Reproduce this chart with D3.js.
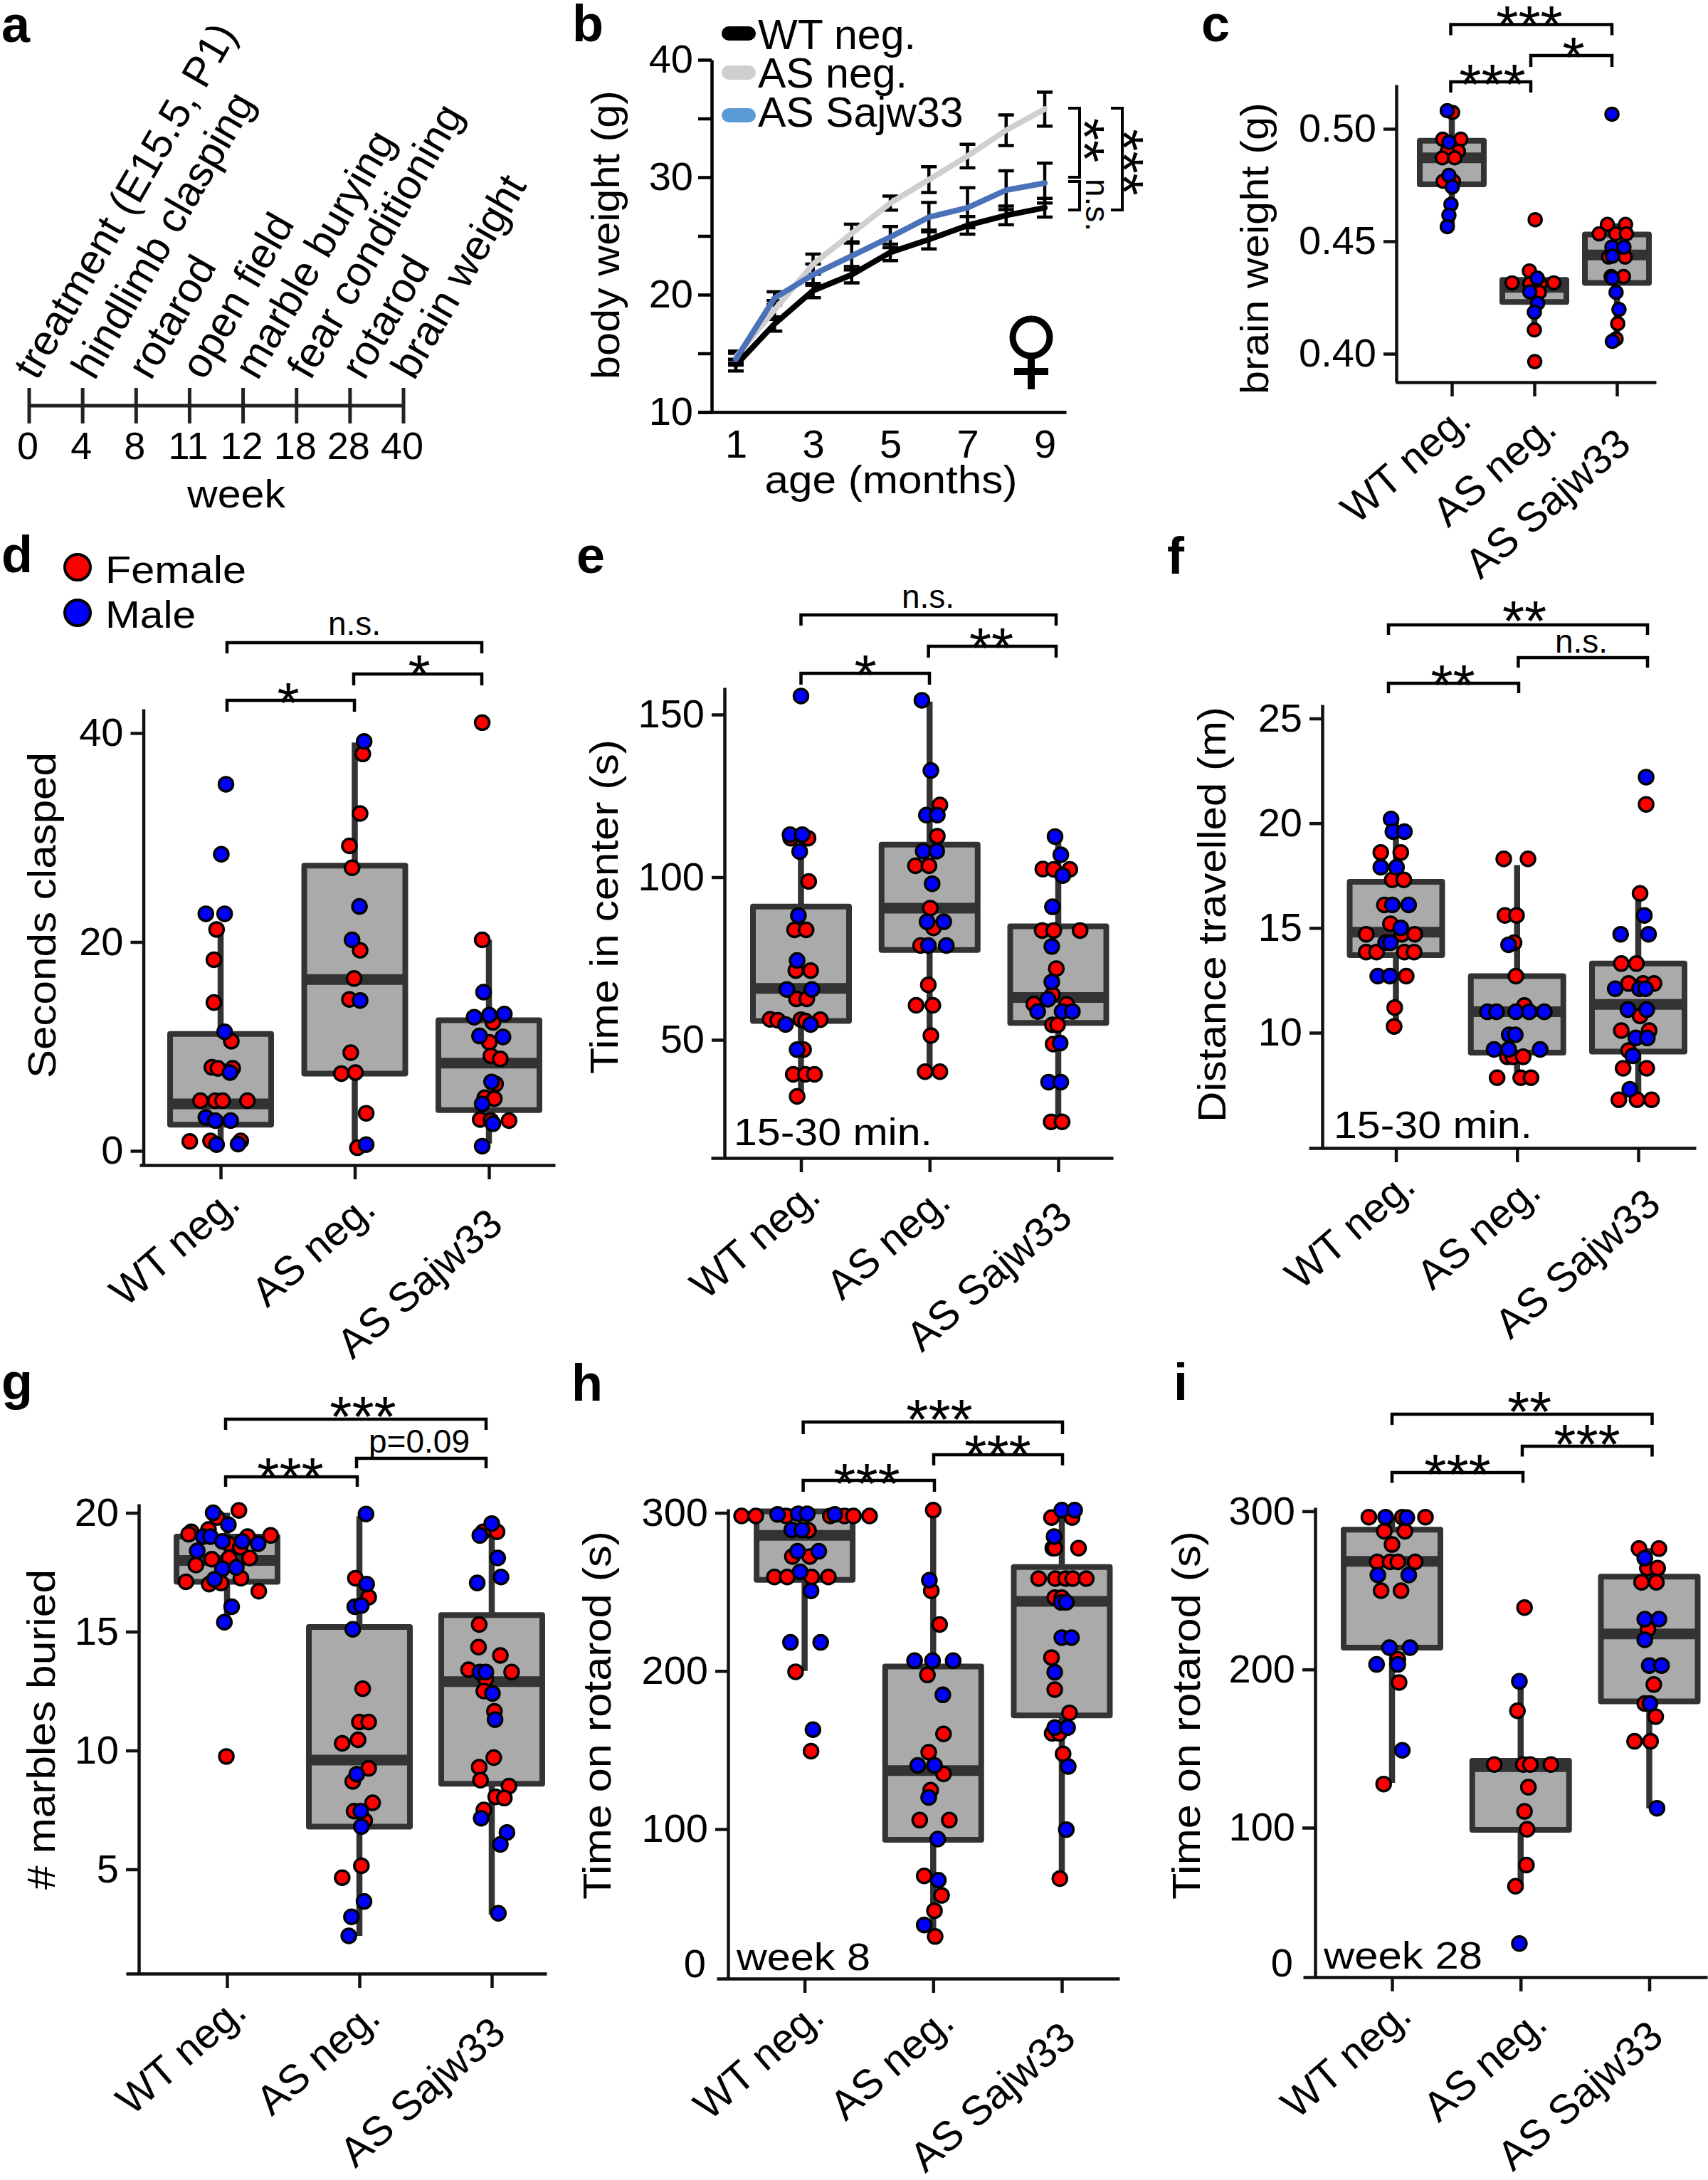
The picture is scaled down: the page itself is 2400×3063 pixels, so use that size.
<!DOCTYPE html>
<html>
<head>
<meta charset="utf-8">
<script src="https://cdn.jsdelivr.net/npm/d3@7"></script>
<style>
html, body { margin: 0; padding: 0; background: #fff; }
svg text { font-family: "Liberation Sans", Arial, sans-serif; fill: #000; }
</style>
</head>
<body>
<svg id="fig" width="2400" height="3063"></svg>
<script>
"use strict";
const groups = ["WT neg.", "AS neg.", "AS Sajw33"];

// a: timeline
const weeks = ["0", "4", "8", "11", "12", "18", "28", "40"];
const tests = ["treatment (E15.5, P1)", "hindlimb clasping", "rotarod", "open field", "marble burying", "fear conditioning", "rotarod", "brain weight"];

// b: body weight, per month
const months = [1, 2, 3, 4, 5, 6, 7, 8, 9];
const wtWeight = [14, 17.5, 20.35, 21.7, 23.6, 24.7, 25.9, 26.75, 27.4];
const asWeight = [14.7, 18.7, 22.6, 25.2, 27.8, 29.8, 31.8, 34, 35.8];
const sajWeight = [14.5, 19.7, 21.7, 23.3, 24.9, 26.6, 27.4, 28.9, 29.5];
const wtErr = [0.5, 0.6, 0.6, 0.7, 0.7, 0.8, 0.75, 0.8, 0.8];
const asErr = [0.5, 0.8, 0.85, 0.8, 0.6, 1.1, 1.0, 1.3, 1.45];
const sajErr = [0.5, 0.55, 0.9, 1.2, 0.9, 1.25, 1.7, 1.65, 1.7];

// boxes are [low, q1, median, q3, high] for WT, AS, Sajw33
// points are [value, offset from the group in category units, sex]
const brainBox = [[0.4566, 0.4753, 0.4871, 0.4947, 0.5076], [0.41, 0.423, 0.4295, 0.4328, 0.4356], [0.4058, 0.4315, 0.4439, 0.453, 0.458]];
const brainWt = [[.5073,.01,"F"],[.5081,-.055,"M"],[.4954,-.11,"F"],[.4954,.11,"F"],[.494,-.035,"M"],[.49,.08,"F"],[.49,-.055,"F"],[.4871,-.115,"F"],[.4871,.035,"F"],[.4767,-.105,"F"],[.4767,.02,"F"],[.4793,-.035,"M"],[.4742,.005,"M"],[.4664,-.01,"M"],[.4616,-.035,"M"],[.4565,-.055,"M"]];
const brainAs = [[.4596,.01,"F"],[.4368,-.06,"F"],[.4315,-.27,"F"],[.4315,.235,"F"],[.4311,-.055,"F"],[.431,.07,"F"],[.4336,.035,"M"],[.4273,.06,"F"],[.4275,-.055,"M"],[.4225,.04,"M"],[.4185,0,"M"],[.4106,0,"F"],[.3965,.005,"F"]];
const brainSaj = [[.5065,-.06,"M"],[.4575,-.115,"F"],[.4575,.105,"F"],[.4533,-.215,"F"],[.4533,-.015,"F"],[.4533,.115,"F"],[.4474,-.06,"M"],[.4474,.085,"M"],[.443,-.1,"F"],[.443,.1,"F"],[.4434,-.055,"M"],[.4343,.08,"F"],[.4343,-.07,"F"],[.4336,-.055,"M"],[.4273,-.01,"M"],[.4197,.025,"M"],[.4134,.01,"F"],[.4066,-.01,"F"],[.4055,-.055,"M"]];

const claspBox = [[0.5, 2.5, 4.5, 11.2, 21], [0.2, 7.4, 16.4, 27.3, 39.1], [0.7, 3.9, 8.4, 12.5, 20.2]];
const claspWt = [[35.1,.04,"M"],[28.4,.005,"M"],[22.7,-.11,"M"],[22.7,.03,"M"],[21.2,-.03,"F"],[18.3,-.05,"F"],[14.2,-.05,"F"],[11.4,.03,"M"],[10.5,.08,"F"],[8,-.065,"F"],[7.9,-.02,"F"],[7.9,.09,"F"],[7.5,.07,"M"],[4.8,-.15,"F"],[4.8,-.04,"F"],[4.8,.015,"F"],[4.8,.2,"F"],[3.2,-.11,"M"],[2.9,-.04,"M"],[2.9,.075,"M"],[.9,-.23,"F"],[.95,-.075,"F"],[.95,.15,"F"],[.6,-.03,"M"],[.65,.13,"M"]];
const claspAs = [[39.2,.07,"M"],[38,.06,"F"],[32.3,.04,"F"],[29.2,-.04,"F"],[27.1,-.02,"F"],[23.4,.035,"M"],[20.2,-.02,"M"],[19.2,.04,"F"],[16.5,-.005,"F"],[14.5,-.04,"F"],[14.4,.04,"M"],[9.4,-.03,"F"],[7.4,-.1,"F"],[7.5,.005,"F"],[3.6,.085,"F"],[.3,.02,"F"],[.6,.085,"M"]];
const claspSaj = [[41,-.05,"F"],[20.2,-.05,"F"],[15.2,-.04,"M"],[12.8,-.11,"M"],[13,.003,"M"],[13.1,.115,"M"],[12.3,.03,"F"],[11,-.07,"M"],[10.9,.105,"M"],[10.4,.003,"F"],[9.1,.015,"F"],[8.8,.085,"F"],[6.4,.05,"F"],[6.6,.02,"M"],[5.1,-.03,"F"],[5,.04,"F"],[4.5,-.05,"M"],[3,-.065,"F"],[2.9,.015,"F"],[2.9,.15,"F"],[2.6,.03,"M"],[.45,-.05,"M"]];

const centerBox = [[32.6, 55.8, 65.8, 91, 113], [40, 77.6, 90.5, 110, 154], [24.8, 55.2, 63, 84.9, 112.3]];
const centerWt = [[155.7,0,"M"],[113.1,-.085,"M"],[112,-.08,"F"],[112,.055,"F"],[113.1,.01,"M"],[107.9,-.01,"M"],[98.7,.06,"F"],[88.2,-.02,"M"],[83.8,-.05,"F"],[83.8,.04,"F"],[74.4,-.03,"M"],[71.3,-.04,"F"],[71.3,.075,"F"],[65.5,-.11,"M"],[65.5,.085,"M"],[62.6,-.035,"F"],[62.6,.045,"F"],[56.3,-.24,"F"],[56,-.18,"F"],[54.7,-.12,"M"],[56.2,0,"F"],[55.8,.035,"F"],[56.2,.15,"F"],[54.7,.075,"M"],[47,.02,"F"],[47,-.03,"M"],[39.4,-.06,"F"],[39.4,.035,"F"],[39.4,.105,"F"],[32.6,-.03,"F"]];
const centerAs = [[154.4,-.06,"M"],[132.8,.01,"M"],[122.2,.08,"F"],[119.1,-.025,"M"],[119.1,.06,"M"],[112.6,.06,"F"],[108,-.05,"M"],[108,.055,"M"],[103.5,-.11,"F"],[103.5,-.005,"F"],[98,.02,"M"],[90.5,.005,"F"],[84.4,.03,"F"],[86.3,-.02,"M"],[86.3,.11,"M"],[79,-.07,"F"],[79,-.01,"M"],[79,.13,"M"],[66.9,-.01,"F"],[60.6,-.105,"F"],[60.6,.025,"F"],[51.3,.01,"F"],[40.2,-.035,"F"],[40.2,.08,"F"]];
const centerSaj = [[112.5,-.025,"M"],[106.9,.02,"M"],[102.5,-.12,"F"],[102.4,-.035,"F"],[102.4,.09,"F"],[100.5,.035,"M"],[90.9,-.045,"M"],[83.6,-.125,"F"],[83.6,-.035,"F"],[83.6,.17,"F"],[78.7,-.05,"M"],[71.9,-.015,"F"],[67.8,-.05,"M"],[63.9,-.045,"F"],[62.5,-.08,"M"],[61,-.19,"F"],[60.9,.065,"F"],[58.7,-.16,"M"],[58.7,.03,"M"],[58.7,.11,"M"],[54.6,-.045,"F"],[54.6,-.005,"F"],[48.7,-.04,"F"],[49,.015,"M"],[37,-.075,"M"],[37,.02,"M"],[24.8,-.055,"F"],[24.8,.03,"F"]];

const distBox = [[10.3, 13.7, 14.8, 17.2, 20.2], [7.8, 9.05, 11, 12.7, 18], [6.75, 9.1, 11.35, 13.3, 16.5]];
const distWt = [[20.2,-.04,"M"],[19.6,-.025,"M"],[19.6,.07,"M"],[18.6,-.125,"F"],[18.6,.04,"F"],[17.9,-.125,"M"],[17.9,.005,"M"],[17.3,-.03,"F"],[17.3,.065,"F"],[16.1,-.095,"F"],[16.1,-.03,"M"],[16.1,.105,"M"],[15.2,-.045,"F"],[15,.04,"M"],[14.7,.05,"F"],[14.7,-.245,"F"],[14.7,.155,"F"],[14.3,-.085,"M"],[14.3,-.045,"M"],[13.85,-.245,"F"],[13.85,-.16,"F"],[13.85,.07,"F"],[13.85,.15,"F"],[12.7,-.15,"M"],[12.7,-.05,"M"],[12.7,.085,"F"],[11.2,-.01,"F"],[10.3,-.015,"F"]];
const distAs = [[18.3,-.11,"F"],[18.3,.09,"F"],[15.6,-.1,"F"],[15.6,-.005,"F"],[14.3,-.025,"F"],[14.2,-.07,"M"],[12.7,-.01,"F"],[11.3,.06,"F"],[11,-.245,"M"],[11,-.17,"M"],[11,-.01,"M"],[11,.1,"M"],[11,.225,"M"],[9.9,-.065,"M"],[9.9,-.015,"M"],[9.2,-.19,"M"],[8.85,-.08,"F"],[8.85,-.035,"F"],[8.85,.05,"F"],[9.2,-.07,"M"],[9.2,.19,"M"],[7.85,-.165,"F"],[7.85,.03,"F"],[7.85,.115,"F"]];
const distSaj = [[22.2,.065,"M"],[20.9,.065,"F"],[16.65,.015,"F"],[15.6,.05,"M"],[14.7,-.145,"M"],[14.7,.085,"M"],[13.3,-.14,"F"],[13.3,-.015,"F"],[12.35,-.08,"F"],[12.35,.04,"F"],[12.35,.13,"F"],[12.1,-.19,"M"],[12.1,.01,"M"],[12.1,.06,"M"],[11.1,-.085,"M"],[11.1,.07,"M"],[10.8,.015,"F"],[10.1,-.14,"F"],[10.1,.09,"F"],[9.75,-.02,"M"],[9.75,.075,"M"],[9.15,-.08,"F"],[8.9,-.045,"M"],[8.3,-.125,"F"],[8.3,.07,"F"],[7.3,-.07,"M"],[6.8,-.16,"F"],[6.8,-.01,"F"],[6.8,.11,"F"]];

const marbleBox = [[15.4, 17.1, 18, 19, 20], [2.2, 6.8, 9.6, 15.2, 19.85], [3.1, 8.6, 12.9, 15.7, 19.2]];
const marbleWt = [[20.1,.09,"F"],[20,-.105,"M"],[19.8,-.075,"F"],[19.5,.01,"M"],[19.3,-.14,"F"],[19.2,-.27,"F"],[19.1,-.29,"F"],[19,-.18,"M"],[19,-.125,"M"],[19,.155,"F"],[19.05,.33,"F"],[18.8,-.035,"M"],[18.8,.115,"M"],[18.7,.235,"M"],[18.7,.01,"F"],[18.55,.1,"F"],[18.4,-.225,"M"],[18.1,.015,"F"],[18.05,-.115,"F"],[18.1,.17,"F"],[17.8,-.235,"F"],[17.65,-.035,"M"],[17.7,.07,"M"],[17.1,-.31,"F"],[17,-.135,"F"],[17.05,-.045,"F"],[17.2,-.095,"M"],[17.25,.105,"F"],[16.7,.24,"F"],[16.05,.035,"M"],[15.4,-.02,"M"],[9.75,-.005,"F"]];
const marbleAs = [[19.95,.05,"M"],[17.25,-.03,"F"],[17,.055,"M"],[16.45,.07,"F"],[16.05,-.035,"M"],[16.1,.015,"M"],[15.1,-.05,"M"],[12.6,.025,"F"],[11.2,0,"F"],[11.2,.07,"F"],[10.3,-.13,"F"],[10.45,-.01,"F"],[9.25,.07,"F"],[9,-.02,"M"],[8.7,-.05,"F"],[7.8,.1,"F"],[7.45,-.04,"F"],[7.05,.04,"F"],[7.45,.01,"M"],[6.8,.015,"M"],[5.15,.015,"F"],[4.65,-.13,"F"],[3.65,.035,"M"],[3,-.06,"M"],[2.2,-.08,"M"]];
const marbleSaj = [[19.55,0,"M"],[19.2,-.065,"F"],[19.2,.04,"F"],[19.05,-.09,"M"],[18.1,.045,"M"],[17.3,.07,"M"],[17.05,-.11,"M"],[15.3,-.095,"F"],[14.35,-.1,"F"],[14,.065,"F"],[13.4,-.175,"F"],[13.3,-.09,"M"],[13.3,-.045,"M"],[13.3,.15,"F"],[13,-.045,"F"],[12.5,-.06,"F"],[12.4,.005,"M"],[11.65,.02,"F"],[11.3,.025,"M"],[9.7,.015,"F"],[9.3,-.095,"F"],[8.75,-.085,"F"],[8.5,.13,"F"],[8.05,.03,"F"],[8,.095,"F"],[7.5,-.06,"F"],[7.15,-.08,"M"],[6.55,.115,"M"],[6.05,.065,"M"],[3.15,.05,"M"]];

const rota8Box = [[200, 257.6, 285.7, 301, 301], [32, 93.3, 137, 202.8, 302], [68.7, 171.9, 244, 265.7, 301.6]];
const rota8Wt = [[298,-.49,"F"],[298,-.38,"F"],[299,-.21,"M"],[298,-.145,"F"],[299.4,-.05,"M"],[299.4,.02,"M"],[298,.2,"F"],[299,.235,"M"],[298,.31,"F"],[298,.38,"F"],[298,.505,"F"],[289.2,-.1,"M"],[289.2,-.02,"M"],[288.9,.03,"F"],[272.4,-.095,"F"],[272.4,.04,"F"],[275.7,-.055,"M"],[275.7,.11,"M"],[259.4,-.235,"F"],[259.4,-.135,"F"],[262.7,-.035,"M"],[259.4,.055,"F"],[259.4,.185,"F"],[250.7,.05,"M"],[218.1,-.11,"M"],[218.1,.125,"M"],[199.5,-.07,"F"],[162.9,.065,"M"],[149.3,.05,"F"]];
const rota8As = [[301.7,0,"F"],[257.4,-.03,"M"],[250.7,-.015,"F"],[229.4,.05,"F"],[206.5,-.145,"M"],[206.5,-.005,"M"],[206.5,.155,"M"],[197.5,-.045,"F"],[184.9,.075,"M"],[160.2,.08,"F"],[148.6,-.035,"F"],[140.3,-.12,"M"],[140.3,.01,"M"],[134.9,.08,"F"],[124.6,-.02,"F"],[120,-.035,"M"],[105.7,-.105,"F"],[105.7,.125,"F"],[93.7,.035,"M"],[70.4,-.07,"F"],[67.7,.04,"M"],[58.1,.065,"F"],[48.4,.01,"F"],[39.4,-.07,"M"],[32.1,.015,"F"]];
const rota8Saj = [[301.7,0,"M"],[301.7,.1,"M"],[297,-.08,"F"],[297,.08,"F"],[285,-.06,"M"],[277.7,-.07,"F"],[277.7,-.055,"F"],[277.7,.13,"F"],[258.4,-.18,"F"],[258.4,-.05,"F"],[258.4,.03,"F"],[258.4,.085,"F"],[258.4,.19,"F"],[246.4,-.055,"F"],[246.4,0,"F"],[243.4,-.005,"M"],[243.4,.035,"M"],[221.1,0,"M"],[221.1,.075,"M"],[208.5,-.08,"F"],[199.2,-.055,"M"],[188.2,-.055,"F"],[173.5,.06,"F"],[160.6,-.075,"F"],[160.6,-.02,"F"],[164.2,-.055,"M"],[164.2,.045,"M"],[147.6,.01,"F"],[139.6,.05,"M"],[99.7,.035,"M"],[68.7,-.015,"F"]];

const rota28Box = [[128.3, 213.8, 268.4, 288.4, 295.7], [63, 98.7, 138.6, 142.3, 192.5], [112.3, 179.9, 222.5, 258.7, 276.7]];
const rota28Wt = [[296.3,-.18,"F"],[296.3,-.05,"M"],[296.3,.08,"F"],[296.3,.26,"F"],[296,.115,"M"],[287.4,-.06,"F"],[287.4,.1,"F"],[279,0,"F"],[268,-.115,"F"],[268,-.015,"F"],[268,.045,"F"],[268,.18,"F"],[259.7,-.11,"M"],[259.7,.13,"M"],[249.8,-.085,"F"],[249.8,.07,"F"],[213.8,-.02,"M"],[213.8,.14,"M"],[206.5,.045,"F"],[203.2,-.12,"M"],[203.2,.045,"M"],[191.8,.055,"F"],[148.9,.08,"M"],[127.6,-.065,"F"]];
const rota28As = [[239.1,.03,"F"],[192.5,-.01,"M"],[173.9,-.025,"F"],[139.9,-.205,"F"],[139.9,.02,"F"],[139.9,.075,"F"],[139.9,.235,"F"],[125.6,.06,"F"],[110.3,.03,"F"],[99,.05,"F"],[76.4,.045,"F"],[63,-.04,"F"],[26.8,-.01,"M"]];
const rota28Saj = [[276.4,-.08,"F"],[276.4,.075,"F"],[270.4,-.035,"M"],[264.1,-.015,"F"],[264.1,.065,"F"],[255.1,-.06,"F"],[255.1,.055,"F"],[231.8,-.035,"M"],[231.8,.075,"M"],[225.5,-.01,"F"],[218.8,-.035,"M"],[202.5,0,"M"],[202.5,.095,"M"],[190.5,.035,"F"],[178.5,-.035,"F"],[178.5,.005,"M"],[170.2,.05,"F"],[154.6,-.115,"F"],[154.6,.01,"F"],[112.3,.06,"M"]];

const svg = d3.select("#fig");
const BOX_DARK = "#333333", BOX_FILL = "#aaaaaa";
const FONT = 56;

function txt(parent, s, x, y, o) {
    o = o || {};
    let t = parent.append("text")
        .attr("font-size", o.size || FONT)
        .attr("font-weight", o.weight || "normal")
        .attr("text-anchor", o.anchor || "start")
        .attr("transform", `translate(${x},${y}) rotate(${o.rotate || 0})`)
        .text(s);
    if (o.len) t.attr("textLength", o.len).attr("lengthAdjust", "spacingAndGlyphs");
    return t;
}

// asterisks sit high in the font, so place them by their middle
function stars(parent, s, cx, cy) {
    txt(parent, s, cx, cy + 0.57 * 80, { size: 80, anchor: "middle" });
}

function bracket(parent, x0, x1, y, leg) {
    parent.append("path")
        .attr("d", `M${x0},${y + leg}V${y}H${x1}V${y + leg}`)
        .attr("fill", "none").attr("stroke", "#000").attr("stroke-width", 4.5);
}

function boxPanel(c) {
    let g = svg.append("g");
    let y = d3.scaleLinear().domain([c.cal[0], c.cal[2]]).range([c.cal[1], c.cal[3]]);
    y.domain([y.invert(c.bottom), y.invert(c.top)]).range([c.bottom, c.top]);
    let x = d3.scaleLinear().domain([0, 2]).range(c.cats);
    x.domain([x.invert(c.left), x.invert(c.right)]).range([c.left, c.right]);

    c.boxes.forEach((b, i) => {
        let px = x(i);
        let hw = c.boxW / 2;
        g.append("line").attr("x1", px).attr("x2", px).attr("y1", y(b[0])).attr("y2", y(b[4]))
            .attr("stroke", BOX_DARK).attr("stroke-width", 8.5);
        g.append("rect").attr("x", px - hw).attr("width", c.boxW)
            .attr("y", y(b[3])).attr("height", y(b[1]) - y(b[3]))
            .attr("fill", BOX_FILL).attr("stroke", BOX_DARK).attr("stroke-width", 8)
            .attr("stroke-linejoin", "round");
        g.append("line").attr("x1", px - hw).attr("x2", px + hw).attr("y1", y(b[2])).attr("y2", y(b[2]))
            .attr("stroke", BOX_DARK).attr("stroke-width", 15);
    });

    let r = c.r || 10;
    c.points.forEach((pts, i) => {
        // males were mostly plotted after females
        let sorted = pts.filter(p => p[2] === "F").concat(pts.filter(p => p[2] === "M"));
        g.selectAll(null).data(sorted).enter().append("circle")
            .attr("cx", d => x(i + d[1]))
            .attr("cy", d => y(d[0]))
            .attr("r", r)
            .attr("fill", d => d[2] === "F" ? "#ff0000" : "#0000ff")
            .attr("stroke", "#000").attr("stroke-width", 3.5);
    });

    let yAxis = g.append("g").attr("transform", `translate(${c.axisX},0)`)
        .call(d3.axisLeft(y).tickValues(c.ticks).tickSize(18).tickSizeOuter(0).tickPadding(10).tickFormat(c.fmt || d3.format("d")));
    let xAxis = g.append("g").attr("transform", `translate(0,${c.bottom})`)
        .call(d3.axisBottom(x).tickValues([0, 1, 2]).tickSize(20).tickSizeOuter(0).tickFormat(i => groups[i]));
    [yAxis, xAxis].forEach(a => {
        a.selectAll("path,line").attr("stroke", "#111").attr("stroke-width", 4.5);
        a.selectAll("text").attr("font-size", FONT).attr("font-family", null);
    });
    xAxis.selectAll("text")
        .attr("font-size", 58)
        .attr("x", 0).attr("y", 0).attr("dy", 0)
        .attr("text-anchor", "end")
        .attr("transform", (d, i) => `translate(${c.labelOff[i][0]},${c.labelOff[i][1]}) rotate(-41)`);

    txt(g, c.title, c.titleX, c.titleY, { rotate: -90, anchor: "middle", len: c.titleLen });
    c.brackets.forEach(b => bracket(g, b[0], b[1], b[2], b[3]));
    c.marks.forEach(m => {
        if (m[0][0] === "*") stars(g, m[0], m[1], m[2]);
        else txt(g, m[0], m[1], m[2], { anchor: "middle", size: m[3] || 46 });
    });
    if (c.note) txt(g, c.note, c.noteX, c.noteY, { len: c.noteLen, size: 54 });
    if (c.zero) txt(g, "0", c.zero[0], c.zero[1], { anchor: "end" });
}

const stdOff = [[30, 58], [32, 66], [22, 88]];

// panel a
function timeline() {
    let g = svg.append("g");
    let x = d3.scalePoint().domain(d3.range(weeks.length)).range([41, 567]);
    g.append("line").attr("x1", x(0)).attr("x2", x(7)).attr("y1", 570).attr("y2", 570)
        .attr("stroke", "#222").attr("stroke-width", 5);
    g.selectAll(null).data(weeks).enter().append("line")
        .attr("x1", (d, i) => x(i)).attr("x2", (d, i) => x(i))
        .attr("y1", 545).attr("y2", 595)
        .attr("stroke", "#222").attr("stroke-width", 5);
    weeks.forEach((w, i) => txt(g, w, x(i) - 2, 645, { anchor: "middle", size: 54 }));
    txt(g, "week", 332, 713, { anchor: "middle", size: 56, len: 138 });
    const starts = [52, 133, 212, 287, 362, 436, 512, 582];
    tests.forEach((t, i) => txt(g, t, starts[i], 536, { rotate: -60, size: 59 }));
}

// panel b
function weightPanel() {
    let g = svg.append("g");
    let y = d3.scaleLinear().domain([10, 40]).range([579, 84]);
    let x = d3.scaleLinear().domain([1, 9]).range([1034, 1468]);
    x.domain([x.invert(981), x.invert(1498)]).range([981, 1498]);
    let series = [
        { v: asWeight, e: asErr, col: "#d0cece" },
        { v: wtWeight, e: wtErr, col: "#000000" },
        { v: sajWeight, e: sajErr, col: "#4a72b8" }
    ];
    series.forEach(s => {
        months.forEach((m, i) => {
            let px = x(m), top = y(s.v[i] + s.e[i]), bot = y(s.v[i] - s.e[i]);
            g.append("path")
                .attr("d", `M${px - 11},${top}H${px + 11}M${px},${top}V${bot}M${px - 11},${bot}H${px + 11}`)
                .attr("fill", "none").attr("stroke", "#000").attr("stroke-width", 4.5);
        });
    });
    let line = d3.line().x((d, i) => x(months[i])).y(d => y(d));
    series.forEach(s => {
        g.append("path").attr("d", line(s.v)).attr("fill", "none")
            .attr("stroke", s.col).attr("stroke-width", 8)
            .attr("stroke-linejoin", "round").attr("stroke-linecap", "round");
    });
    let yAxis = g.append("g").attr("transform", "translate(1000,0)")
        .call(d3.axisLeft(y).tickValues(d3.range(10, 41, 5)).tickSize(19).tickSizeOuter(0).tickPadding(7)
            .tickFormat(d => d % 10 === 0 ? d : ""));
    let xAxis = g.append("g").attr("transform", "translate(0,579)")
        .call(d3.axisBottom(x).tickValues([1, 3, 5, 7, 9]).tickSize(0).tickSizeOuter(0).tickPadding(24));
    [yAxis, xAxis].forEach(a => {
        a.selectAll("path,line").attr("stroke", "#000").attr("stroke-width", 4.5);
        a.selectAll("text").attr("font-size", FONT).attr("font-family", null);
    });
    txt(g, "body weight (g)", 870, 330, { rotate: -90, anchor: "middle", len: 406 });
    txt(g, "age (months)", 1252, 693, { anchor: "middle", len: 355 });

    // legend
    [[47, "#000000", "WT neg.", 69], [102, "#d0cece", "AS neg.", 123], [162, "#5b9bd5", "AS Sajw33", 178]].forEach(l => {
        g.append("line").attr("x1", 1024).attr("x2", 1052).attr("y1", l[0]).attr("y2", l[0])
            .attr("stroke", l[1]).attr("stroke-width", 20).attr("stroke-linecap", "round");
        txt(g, l[2], 1065, l[3], { size: 59 });
    });

    // vertical brackets
    let vb = (x1, x0, y0, y1) => g.append("path").attr("d", `M${x0},${y0}H${x1}V${y1}H${x0}`)
        .attr("fill", "none").attr("stroke", "#000").attr("stroke-width", 4);
    vb(1517, 1501, 152, 249);
    vb(1517, 1501, 255, 295);
    vb(1577, 1561, 152, 295);
    txt(g, "**", 1542 - 0.57 * 80, 197, { size: 80, anchor: "middle", rotate: 90 });
    txt(g, "n.s.", 1526, 288, { size: 46, anchor: "middle", rotate: 90 });
    txt(g, "***", 1597 - 0.57 * 80, 228, { size: 80, anchor: "middle", rotate: 90 });

    // female sign
    g.append("circle").attr("cx", 1449).attr("cy", 474).attr("r", 26).attr("fill", "none")
        .attr("stroke", "#000").attr("stroke-width", 9);
    g.append("path").attr("d", "M1449,500V547M1425,522H1473").attr("stroke", "#000").attr("stroke-width", 10).attr("fill", "none");
}

timeline();
weightPanel();

boxPanel({
    title: "brain weight (g)", titleX: 1782, titleY: 349, titleLen: 410,
    cal: [0.5, 181, 0.4, 497], top: 119, bottom: 537, left: 1961, right: 2327, axisX: 1962,
    cats: [2040, 2272], boxW: 90, r: 9,
    boxes: brainBox, points: [brainWt, brainAs, brainSaj],
    ticks: [0.4, 0.45, 0.5], fmt: d3.format(".2f"), labelOff: [[30, 58], [34, 70], [22, 92]],
    brackets: [[2038.5, 2265, 34.5, 15], [2151, 2265, 78, 16], [2038.5, 2151, 115, 15]],
    marks: [["***", 2149, 18], ["*", 2211, 62], ["***", 2097, 100]]
});
boxPanel({
    title: "Seconds clasped", titleX: 78, titleY: 1286, titleLen: 458,
    cal: [40, 1030, 0, 1617], top: 996, bottom: 1637, left: 196, right: 780, axisX: 201.5,
    cats: [310, 687], boxW: 142,
    boxes: claspBox, points: [claspWt, claspAs, claspSaj],
    ticks: [0, 20, 40], labelOff: stdOff,
    brackets: [[319, 677, 903, 15], [497, 677, 947, 16], [319, 498, 984, 16]],
    marks: [["n.s.", 498, 892], ["*", 589, 930], ["*", 405, 969]]
});
boxPanel({
    title: "Time in center (s)", titleX: 868, titleY: 1274, titleLen: 470,
    cal: [150, 1004, 50, 1461], top: 966, bottom: 1627, left: 999, right: 1564, axisX: 1018,
    cats: [1125.5, 1487], boxW: 135,
    boxes: centerBox, points: [centerWt, centerAs, centerSaj],
    ticks: [50, 100, 150], labelOff: stdOff,
    brackets: [[1125.5, 1484, 864, 15], [1304.6, 1484, 908, 16], [1125.5, 1306, 946, 16]],
    marks: [["n.s.", 1304, 854], ["**", 1393, 892], ["*", 1216, 930]],
    note: "15-30 min.", noteX: 1031, noteY: 1609, noteLen: 279
});
boxPanel({
    title: "Distance travelled (m)", titleX: 1722, titleY: 1285, titleLen: 584,
    cal: [25, 1009.5, 10, 1451], top: 990, bottom: 1613, left: 1839, right: 2383, axisX: 1858,
    cats: [1961.5, 2302], boxW: 130,
    boxes: distBox, points: [distWt, distAs, distSaj],
    ticks: [10, 15, 20, 25], labelOff: [[30, 58], [36, 66], [34, 84]],
    brackets: [[1951, 2315, 878, 14], [2133.4, 2315, 924, 14], [1951, 2134, 960, 14]],
    marks: [["**", 2142, 854.5], ["n.s.", 2222, 917], ["**", 2041.6, 944]],
    note: "15-30 min.", noteX: 1874, noteY: 1598.5, noteLen: 279
});
boxPanel({
    title: "# marbles buried", titleX: 76.5, titleY: 2430, titleLen: 450,
    cal: [20, 2125.6, 5, 2626.5], top: 2113, bottom: 2773, left: 177, right: 768, axisX: 195,
    cats: [319, 691], boxW: 142,
    boxes: marbleBox, points: [marbleWt, marbleAs, marbleSaj],
    ticks: [5, 10, 15, 20], labelOff: stdOff,
    brackets: [[317, 683, 1994, 15], [501, 683, 2049, 14], [317, 502, 2075, 14]],
    marks: [["***", 510, 1972], ["p=0.09", 589, 2040.5, 46], ["***", 408, 2058]]
});
boxPanel({
    title: "Time on rotarod (s)", titleX: 857.6, titleY: 2410, titleLen: 518,
    cal: [300, 2125.6, 100, 2570], top: 2120, bottom: 2780, left: 1007, right: 1573, axisX: 1023,
    cats: [1130.6, 1492], boxW: 135,
    boxes: rota8Box, points: [rota8Wt, rota8As, rota8Saj],
    ticks: [100, 200, 300], labelOff: stdOff,
    brackets: [[1128.6, 1493, 1998, 17], [1312, 1493, 2044, 15], [1128.6, 1313, 2080, 16]],
    marks: [["***", 1320, 1976], ["***", 1402, 2026], ["***", 1218, 2066]],
    note: "week 8", noteX: 1035, noteY: 2768, noteLen: 188, zero: [992, 2778]
});
boxPanel({
    title: "Time on rotarod (s)", titleX: 1686, titleY: 2410, titleLen: 518,
    cal: [300, 2123.4, 100, 2568], top: 2118, bottom: 2778, left: 1831, right: 2399, axisX: 1848,
    cats: [1956, 2317.5], boxW: 136,
    boxes: rota28Box, points: [rota28Wt, rota28As, rota28Saj],
    ticks: [100, 200, 300], labelOff: [[30, 58], [40, 70], [22, 88]],
    brackets: [[1956, 2321.5, 1987, 15], [2139, 2321.5, 2032, 14.5], [1956, 2140, 2069, 14.5]],
    marks: [["**", 2149, 1965], ["***", 2230, 2011], ["***", 2048, 2053]],
    note: "week 28", noteX: 1860, noteY: 2765.6, noteLen: 223, zero: [1817, 2777]
});

// sex legend of panel d
[["Female", "#ff0000", 797, 819, 198], ["Male", "#0000ff", 861, 882, 127]].forEach(l => {
    svg.append("circle").attr("cx", 109).attr("cy", l[2]).attr("r", 18)
        .attr("fill", l[1]).attr("stroke", "#000").attr("stroke-width", 4);
    txt(svg, l[0], 148, l[3], { size: 54, len: l[4] });
});

// panel letters
[["a", 2, 59], ["b", 804, 58], ["c", 1688, 58], ["d", 2, 804], ["e", 810, 805], ["f", 1640, 806], ["g", 2, 1966], ["h", 803, 1968], ["i", 1649, 1967]]
    .forEach(l => txt(svg, l[0], l[1], l[2], { size: 72, weight: "bold" }));
</script>
</body>
</html>
